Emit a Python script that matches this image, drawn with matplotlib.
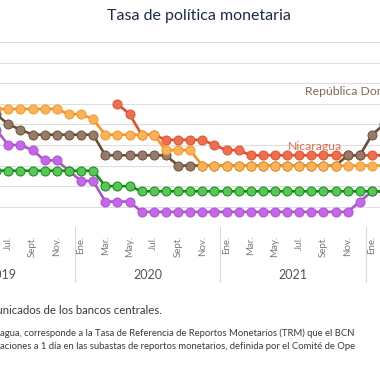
import numpy as np
import matplotlib
matplotlib.use("Agg")
import matplotlib.pyplot as plt

plt.rcParams['font.family'] = ['Lato', 'DejaVu Sans']

# Months Jan 2019 .. Feb 2022
month_abbr = ["Ene.", "Feb.", "Mar.", "Abr.", "May.", "Jun.", "Jul.", "Ago.", "Sept.", "Oct.", "Nov.", "Dic."]
years = [2019, 2020, 2021]
n_months = 38
nan = np.nan

costa_rica = [5.25, 5.25, 5.0, 5.0, 5.0, 4.75, 4.0, 4.0, 3.75, 3.25, 3.25, 2.75,
              2.25, 2.25, 1.25, 1.25, 1.25, 0.75, 0.75, 0.75, 0.75, 0.75, 0.75, 0.75,
              0.75, 0.75, 0.75, 0.75, 0.75, 0.75, 0.75, 0.75, 0.75, 0.75, 0.75, 1.25,
              1.75, 1.75]
guatemala = [2.75] * 14 + [2.0, 2.0, 2.0] + [1.75] * 21
honduras = [5.75] * 11 + [5.5, 5.5, 5.25, 4.5, 4.5, 4.5, 4.5, 4.5, 3.75, 3.75, 3.75] + [3.0] * 16
nicaragua = [nan] * 15 + [6.0, 5.5, 4.5, 4.5, 4.25, 4.25, 4.25, 4.25, 4.0, 3.75, 3.75] + [3.5] * 12
rep_dom = [5.5] * 6 + [5.0, 4.75] + [4.5] * 6 + [3.5] * 6 + [3.0] * 14 + [3.5, 3.5, 4.5, 5.0]

series = [
    ("Costa Rica", costa_rica, "#A955CB", "#C666EE", 2),
    ("Nicaragua", nicaragua, "#E1502C", "#EE6F50", 3),
    ("República Dominicana", rep_dom, "#6B5134", "#977B6A", 4),
    ("Guatemala", guatemala, "#0A920A", "#5BC35B", 5),
    ("Honduras", honduras, "#F7941E", "#FAB35C", 6),
]

W = H = 380
fig = plt.figure(figsize=(3.8, 3.8), dpi=100)

# pixel geometry
x0_px, dx_px = 8.3, 12.123   # Jul 2019 (idx 6) position, px per month
y0_px, dy_px = 227.3, 20.575  # value 0 position, px per unit
xl, xr = -0.6, 37.6
yl, yt = 0, 9
left_px = x0_px + (xl - 6) * dx_px
right_px = x0_px + (xr - 6) * dx_px
top_px = y0_px - yt * dy_px
ax = fig.add_axes([left_px / W, 1 - y0_px / H, (right_px - left_px) / W, (y0_px - top_px) / H])
ax.set_xlim(xl, xr)
ax.set_ylim(yl, yt)

x = np.arange(n_months)
for name, vals, lc, mc, z in series:
    ax.plot(x, vals, color=lc, lw=1.9, marker='o', markersize=6.5,
            markerfacecolor=mc, markeredgecolor=lc, markeredgewidth=0.7, zorder=z)

ax.set_yticks(np.arange(0, 10))
ax.yaxis.grid(True, color="#dedede", lw=0.8)
ax.set_axisbelow(True)
ax.tick_params(axis='y', left=False, labelleft=False)
for s in ax.spines.values():
    s.set_visible(False)

tick_idx = list(range(0, n_months, 2))
ax.set_xticks(tick_idx)
ax.set_xticklabels([month_abbr[i % 12] for i in tick_idx], rotation=90,
                   fontsize=7, color="#7a7a7a")
ax.tick_params(axis='x', length=0, pad=6)

tr = ax.get_xaxis_transform()
for k, yr in enumerate(years):
    ax.text(k * 12 + 5.5, -0.258, str(yr), transform=tr, ha='center', va='center',
            fontsize=9, color="#555555")
for k in range(1, 4):
    ax.plot([k * 12 - 0.5] * 2, [0, -0.295], transform=tr, color="#d8d8d8",
            lw=0.8, clip_on=False)

ax.text(30.47, 6.58, "República Dominicana", ha='left', va='center', fontsize=8.8,
        color="#7D6C55", zorder=7)
ax.text(29.07, 3.95, "Nicaragua", ha='left', va='center', fontsize=8.8,
        color="#E5694A", zorder=7)

fig.text(199 / W, 1 - 16 / H, "Tasa de política monetaria", ha='center', va='center',
         fontsize=11.5, color="#1C2A48")

fig.text(162 / W, 1 - 310.5 / H, "Fuente: Comunicados de los bancos centrales.",
         ha='right', va='center', fontsize=8.2, color="#3a3a3a")
fig.text(0, 1 - 333.3 / H,
         "agua, corresponde a la Tasa de Referencia de Reportos Monetarios (TRM) que el BCN",
         ha='left', va='center', fontsize=6.8, color="#3a3a3a")
fig.text(0, 1 - 346.7 / H,
         "aciones a 1 día en las subastas de reportos monetarios, definida por el Comité de Ope",
         ha='left', va='center', fontsize=6.8, color="#3a3a3a")

fig.savefig("out.png", dpi=100)
